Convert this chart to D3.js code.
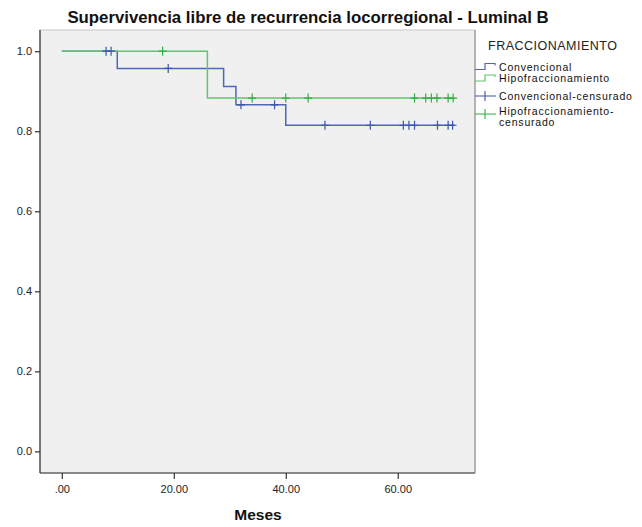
<!DOCTYPE html>
<html><head><meta charset="utf-8">
<script src="https://cdn.jsdelivr.net/npm/d3@7"></script>
<style>body{margin:0;background:#fff;font-family:"Liberation Sans",Arial,sans-serif}</style>
</head><body><svg id="c" width="642" height="527"></svg>
<script>
const title = "Supervivencia libre de recurrencia locorregional - Luminal B";
const xTicks = [0, 20, 40, 60];
const yTicks = [0, 0.2, 0.4, 0.6, 0.8, 1.0];
// step curves: [time, survival]
const convSteps = [[0,1.0],[9.9,0.957],[28.9,0.912],[31.1,0.866],[40.0,0.815],[70.2,0.815]];
const hipoSteps = [[0,1.0],[26.0,0.883],[70.2,0.883]];
const convCens = [[7.9,1.0],[8.8,1.0],[19.0,0.957],[32.0,0.866],[38.0,0.866],[47.0,0.815],[55.1,0.815],[61.0,0.815],[62.0,0.815],[63.0,0.815],[67.1,0.815],[69.0,0.815],[69.8,0.815]];
const hipoCens = [[18.0,1.0],[34.0,0.883],[40.0,0.883],[44.0,0.883],[63.0,0.883],[65.0,0.883],[66.0,0.883],[67.0,0.883],[69.0,0.883],[69.9,0.883]];
const legendTitle = "FRACCIONAMIENTO";
const legendLabels = ["Convencional","Hipofraccionamiento","Convencional-censurado",["Hipofraccionamiento-","censurado"]];

const blue = "#4f67b8", green = "#62c46f", blueC = "#3d55aa", greenC = "#2fae44";
const svg = d3.select("#c");
const L=40, R=475, T=30, B=473;
const x = d3.scaleLinear().domain([-3.9, 73.8]).range([L, R]);
const y = d3.scaleLinear().domain([-0.054, 1.053]).range([B, T]);

svg.append("rect").attr("x",L).attr("y",T).attr("width",R-L).attr("height",B-T).attr("fill","#f0f0f0").attr("stroke","#c8c8c8");
svg.append("line").attr("x1",L).attr("x2",L).attr("y1",T).attr("y2",B).attr("stroke","#333").attr("stroke-width",1.2);
svg.append("line").attr("x1",L).attr("x2",R).attr("y1",B).attr("y2",B).attr("stroke","#333").attr("stroke-width",1.2);
svg.append("line").attr("x1",R).attr("x2",R).attr("y1",T).attr("y2",B).attr("stroke","#888");

const yAx = svg.append("g").attr("transform",`translate(${L},0)`)
  .call(d3.axisLeft(y).tickValues(yTicks).tickFormat(d3.format(".1f")).tickSize(5).tickPadding(3));
yAx.select(".domain").remove();
const xAx = svg.append("g").attr("transform",`translate(0,${B})`)
  .call(d3.axisBottom(x).tickValues(xTicks).tickFormat(d=> d===0?".00":d3.format(".2f")(d)).tickSize(6).tickPadding(6));
xAx.select(".domain").remove();
svg.selectAll(".tick line").attr("stroke","#333").attr("stroke-width",1.2);
svg.selectAll(".tick text").attr("font-family","Liberation Sans, Arial").attr("font-size",11).attr("fill","#222");

const line = d3.line().x(d=>x(d[0])).y(d=>y(d[1])).curve(d3.curveStepAfter);
svg.append("path").datum(convSteps).attr("d",line).attr("fill","none").attr("stroke",blue).attr("stroke-width",1.5);
svg.append("path").datum(hipoSteps).attr("d",line).attr("fill","none").attr("stroke",green).attr("stroke-width",1.5);

function cens(data,col){
  svg.append("g").selectAll("path").data(data).join("path")
    .attr("d",d=>`M${x(d[0])-4},${y(d[1])}H${x(d[0])+4}M${x(d[0])},${y(d[1])-4.5}V${y(d[1])+4.5}`)
    .attr("stroke",col).attr("stroke-width",1.2).attr("fill","none");
}
cens(hipoCens,greenC);
cens(convCens,blueC);

svg.append("text").attr("x",308).attr("y",23).attr("text-anchor","middle").attr("font-weight","bold").attr("font-size",16.8).attr("fill","#111").text(title);
svg.append("text").attr("x",258).attr("y",520).attr("text-anchor","middle").attr("font-weight","bold").attr("font-size",15.5).attr("fill","#111").text("Meses");

// legend
const lg = svg.append("g").attr("font-family","Liberation Sans, Arial").attr("fill","#111");
lg.append("text").attr("x",488).attr("y",50).attr("font-size",12.5).attr("letter-spacing",0.5).attr("fill","#222").text(legendTitle);
const rowsY = [66.5,78,96];
[blue,green].forEach((c,i)=>{
  const yy = rowsY[i];
  lg.append("path").attr("d",`M475,${yy+3}H485V${yy-3}H495V${yy-1}`).attr("fill","none").attr("stroke",c).attr("stroke-width",1.2);
});
lg.append("path").attr("d",`M475,96H496M485,91V101`).attr("stroke",blueC).attr("stroke-width",1.1);
lg.append("path").attr("d",`M475,114H496M485,109V119`).attr("stroke",greenC).attr("stroke-width",1.1);
legendLabels.forEach((t,i)=>{
  if(Array.isArray(t)){
    t.forEach((s,j)=>lg.append("text").attr("x",499).attr("y",114.5+j*11).attr("font-size",10.5).attr("letter-spacing",0.8).text(s));
  } else {
    lg.append("text").attr("x",499).attr("y",rowsY[i]+4).attr("font-size",10.5).attr("letter-spacing",0.8).text(t);
  }
});
</script></body></html>
